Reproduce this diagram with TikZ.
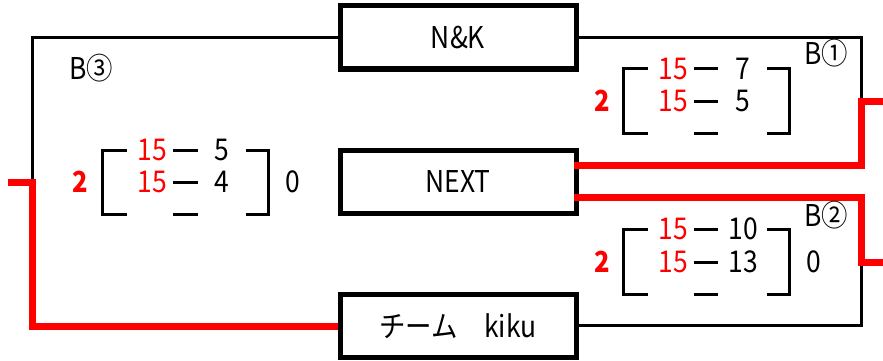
\documentclass[tikz,border=0pt]{standalone}
\usepackage{fontspec}
\setmainfont{Noto Sans CJK JP}[FakeStretch=0.88]
\begin{document}
\begin{tikzpicture}[x=1pt,y=-1pt,
  every node/.style={inner sep=0pt,font=\fontsize{30}{30}\selectfont},
  teambox/.style={draw,line width=5pt,minimum width=236pt,minimum height=63pt,inner sep=0pt},
  blackline/.style={line width=3pt,black},
  redline/.style={line width=7pt,red},
  bracketline/.style={line width=3pt,black},
  redscore/.style={text=red},
  score/.style={text=black},
  winner/.style={text=red,font=\fontsize{29}{29}\selectfont\bfseries},
  loser/.style={text=black},
  blocklabel/.style={text=black}]
\useasboundingbox (0,0) rectangle (883,361);
% team boxes
\node[teambox] (nk) at (458,37.5) {N\&K};
\node[teambox] (next) at (458,182) {NEXT};
\node[teambox] (kiku) at (458,326) {チーム　kiku};
% coordinates for bracket corners
\coordinate (lin) at (8,182);
\coordinate (lcorner) at (32,182);
\coordinate (rtop) at (883,101);
\coordinate (rbot) at (883,262);
% left bracket (B3)
\draw[blackline] (nk.west) -| (lcorner);
\draw[redline] (lin) -- (lcorner) |- (kiku.west);
% right brackets (B1, B2)
\draw[blackline] (nk.east) -| (861,101);
\draw[blackline] (kiku.east |- 0,325) -| (861,262);
\draw[redline] ([xshift=-4.5pt,yshift=16.5pt]next.east) -| (861,101) -- (rtop);
\draw[redline] ([xshift=-4.5pt,yshift=-15.5pt]next.east) -| (861,262) -- (rbot);
% labels
\node[blocklabel] (b3) at (91,68) {B③};
\node[blocklabel] (b1) at (826,53) {B①};
\node[blocklabel] (b2) at (826,215) {B②};
% left score block (B3)
\begin{scope}[shift={(102,150)}]
  \node[winner] (l2) at (-22,32) {2};
  \draw[bracketline] (25,0) -- (0,0) -- (0,64) -- (25,64);
  \node[redscore] (l15a) at (50,0) {15};
  \node[redscore] (l15b) at (50,32) {15};
  \draw[bracketline] (71,0) -- (96,0) (71,32) -- (96,32) (71,64) -- (96,64);
  \node[score] (lsa) at (120,0) {5};
  \node[score] (lsb) at (120,32) {4};
  \draw[bracketline] (144,0) -- (166,0) -- (166,64) -- (144,64);
  \node[loser] (l0) at (191,32) {0};
\end{scope}
% right top score block (B1)
\begin{scope}[shift={(623,69)}]
  \node[winner] (t2) at (-21,32) {2};
  \draw[bracketline] (25,0) -- (0,0) -- (0,64) -- (25,64);
  \node[redscore] (t15a) at (50,0) {15};
  \node[redscore] (t15b) at (50,32) {15};
  \draw[bracketline] (71,0) -- (95,0) (71,32) -- (95,32) (71,64) -- (95,64);
  \node[score] (tsa) at (120,0) {7};
  \node[score] (tsb) at (120,32) {5};
  \draw[bracketline] (144,0) -- (166,0) -- (166,64) -- (144,64);
\end{scope}
% right bottom score block (B2)
\begin{scope}[shift={(623,229)}]
  \node[winner] (u2) at (-21,33) {2};
  \draw[bracketline] (25,0) -- (0,0) -- (0,65) -- (25,65);
  \node[redscore] (u15a) at (50,0) {15};
  \node[redscore] (u15b) at (50,33) {15};
  \draw[bracketline] (71,0) -- (95,0) (71,33) -- (95,33) (71,65) -- (95,65);
  \node[score] (usa) at (120,0) {10};
  \node[score] (usb) at (120,33) {13};
  \draw[bracketline] (144,0) -- (166,0) -- (166,65) -- (144,65);
  \node[loser] (u0) at (191,33) {0};
\end{scope}
\end{tikzpicture}
\end{document}
